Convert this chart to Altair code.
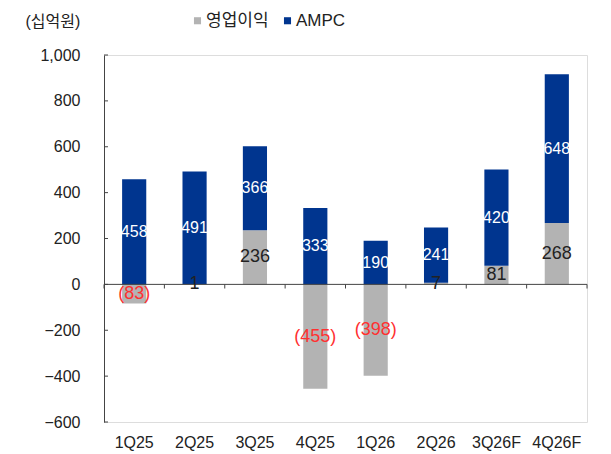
import altair as alt
import pandas as pd

quarters = ["1Q25", "2Q25", "3Q25", "4Q25", "1Q26", "2Q26", "3Q26F", "4Q26F"]
op_profit = [-83, 1, 236, -455, -398, 7, 81, 268]
ampc = [458, 491, 366, 333, 190, 241, 420, 648]
series = ["영업이익", "AMPC"]
y_ticks = [-600, -400, -200, 0, 200, 400, 600, 800, 1000]

GRAY = "#b3b3b3"
BLUE = "#00358f"
FONT = "Liberation Sans, Noto Sans CJK KR"

rows = []
for q, o, a in zip(quarters, op_profit, ampc):
    rows.append({"q": q, "series": series[0], "ord": 0, "value": o})
    rows.append({"q": q, "series": series[1], "ord": 1, "value": a})
df = pd.DataFrame(rows)

xscale = alt.Scale(paddingInner=0, paddingOuter=0)
xaxis = alt.Axis(title=None, domain=False, ticks=False, labelAngle=0,
                 labelFontSize=16, labelPadding=12, labelColor="#222",
                 labelFont=FONT)
xs = alt.X("q:N", sort=quarters, scale=xscale, axis=xaxis)
yscale = alt.Scale(domain=[-600, 1000], nice=False)
yaxis = alt.Axis(values=y_ticks, format=",d", labelExpr="replace(datum.label, '-', '−')",
                 title="(십억원)", titleAngle=0,
                 titleX=-79, titleY=-34, titleAlign="left", titleBaseline="middle",
                 titleFontSize=16, titleFontWeight="normal", titleFont=FONT,
                 titleColor="#222",
                 ticks=False, grid=False, labelFontSize=16, labelPadding=24,
                 labelColor="#222", labelFont=FONT,
                 domainColor="#444", domainWidth=1)

base = alt.Chart(df).transform_stack(
    stack="value", groupby=["q"], as_=["y0", "y1"],
    sort=[alt.SortField("ord", order="ascending")], offset="zero"
).transform_calculate(
    mid="(datum.y0 + datum.y1) / 2",
    label="datum.value < 0 ? '(' + format(-datum.value, ',') + ')' : format(datum.value, ',')",
    lc="datum.series == 'AMPC' ? 'white' : (datum.value < 0 ? '#ff3030' : '#222222')",
)

bars = base.mark_bar(width=alt.RelativeBandSize(0.4)).encode(
    x=xs,
    y=alt.Y("y0:Q", scale=yscale, axis=yaxis),
    y2="y1:Q",
    color=alt.Color("series:N", scale=alt.Scale(domain=series, range=[GRAY, BLUE]),
                    legend=alt.Legend(title=None, orient="none", direction="horizontal",
                                      legendX=85, legendY=-43, symbolType="square",
                                      symbolSize=50, symbolStrokeWidth=0,
                                      labelFontSize=17, labelFont=FONT, labelColor="#222",
                                      columnPadding=10, labelOffset=0)),
)

txt_op = base.transform_filter("datum.ord == 0").mark_text(
    fontSize=18, font=FONT, baseline="middle", align="center"
).encode(x=xs, y=alt.Y("mid:Q", scale=yscale, axis=yaxis), text="label:N",
         color=alt.Color("lc:N", scale=None))

txt_ampc = base.transform_filter("datum.ord == 1").mark_text(
    fontSize=16, font=FONT, baseline="middle", align="center"
).encode(x=xs, y=alt.Y("mid:Q", scale=yscale, axis=yaxis), text="label:N",
         color=alt.Color("lc:N", scale=None))

zero = alt.Chart(pd.DataFrame({"v": [0]})).mark_rule(color="#444", strokeWidth=1).encode(
    y=alt.Y("v:Q", scale=yscale, axis=yaxis))

tickdf = pd.DataFrame({"q": quarters})
xticks = alt.Chart(tickdf).mark_rule(color="#444", strokeWidth=1).encode(
    x=alt.X("q:N", sort=quarters, bandPosition=0, scale=xscale, axis=xaxis),
    y=alt.Y("z:Q", scale=yscale, axis=yaxis), y2="z2:Q"
).transform_calculate(z="0", z2="-18")
xtick_end = alt.Chart(pd.DataFrame({"q": [quarters[-1]]})).mark_rule(color="#444", strokeWidth=1).encode(
    x=alt.X("q:N", sort=quarters, bandPosition=1, scale=xscale, axis=xaxis),
    y=alt.Y("z:Q", scale=yscale, axis=yaxis), y2="z2:Q"
).transform_calculate(z="0", z2="-18")

yt = alt.Chart(pd.DataFrame({"v": y_ticks})).mark_rule(color="#444", strokeWidth=1).encode(
    y=alt.Y("v:Q", scale=yscale, axis=yaxis), x=alt.value(0), x2=alt.value(4))

chart = alt.layer(bars, zero, xticks, xtick_end, yt, txt_op, txt_ampc).properties(
    width=483, height=367,
    padding={"left": 96, "top": 47, "right": 16, "bottom": 32},
    autosize=alt.AutoSizeParams(type="none"),
).configure_view(stroke=None).configure(background="white")

chart.save("out.html", embed_options={"renderer": "svg", "actions": False})
